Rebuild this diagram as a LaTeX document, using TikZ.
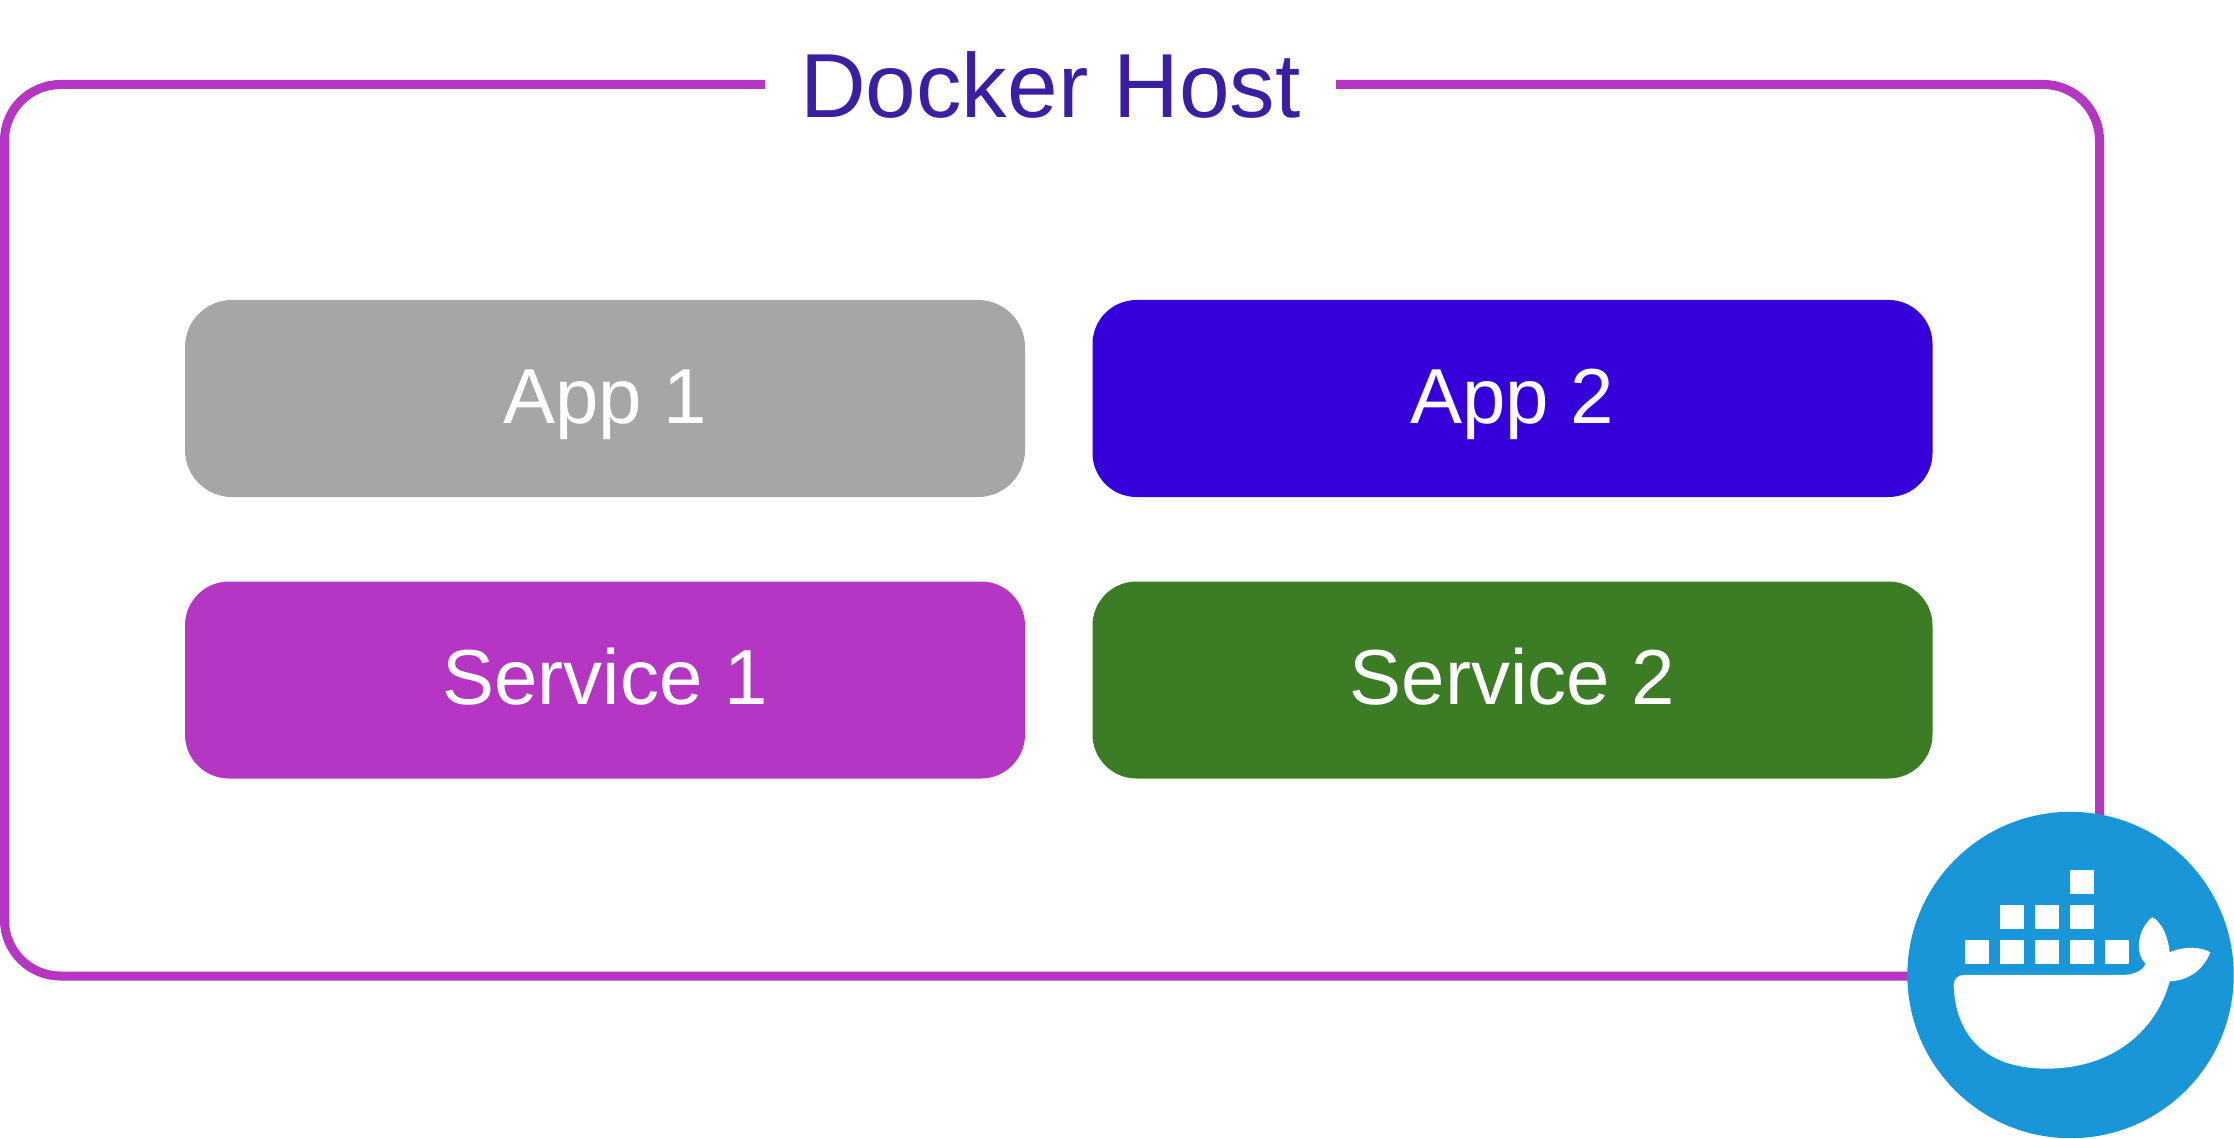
\documentclass[tikz,border=0pt]{standalone}
\usepackage{fontspec}
\setmainfont{Liberation Sans}
\definecolor{framecol}{HTML}{B536C3}
\definecolor{titlecol}{HTML}{3A1FA3}
\definecolor{appgray}{HTML}{A6A6A6}
\definecolor{appblue}{HTML}{3500DA}
\definecolor{svcgreen}{HTML}{3C7C24}
\definecolor{dockerblue}{HTML}{1996D8}
\begin{document}
\begin{tikzpicture}[
    x=1pt, y=-1pt,
    hostframe/.style={draw=framecol, line width=9pt, rounded corners=56pt},
    hosttitle/.style={fill=white, text=titlecol, anchor=base, inner xsep=0pt, minimum width=571pt, font=\fontsize{91}{100}\selectfont},
    box/.style={rounded corners=44pt, inner sep=0pt, minimum width=840pt, minimum height=197pt, text=white, text height=49pt, text depth=0pt, font=\fontsize{78}{90}\selectfont}
]
\useasboundingbox (0,0) rectangle (2234,1139);
\draw[hostframe] (4.5,84.5) rectangle (2099.5,976);
\node[hosttitle] (host) at (1050.5,118) {Docker Host};
% Приложения и сервисы
\node[box, fill=appgray, rounded corners=47pt] (app1) at (605,398.5) {App 1};
\node[box, fill=appblue] (app2) at (1512.5,398.5) {App 2};
\node[box, fill=framecol] (svc1) at (605,680) {Service 1};
\node[box, fill=svcgreen] (svc2) at (1512.5,680) {Service 2};
% Логотип
\node[circle, fill=dockerblue, inner sep=0pt, minimum size=326.4pt] (logo) at (2070.5,975) {};
\begin{scope}[shift={(1880,790)}, x=0.3333pt, y=-0.3333pt]
\foreach \cx/\cy in {571/241, 361/346, 466/346, 571/346, 256/451, 361/451, 466/451, 571/451, 676/451}
    \fill[white] (\cx,\cy) rectangle ++(71,71);
\fill[white] (221,585) .. controls (221,567) and (235,555) .. (250,555)
    -- (720,555) .. controls (760,555) and (785,545) .. (797,522)
    .. controls (765,490) and (770,420) .. (817,381)
    .. controls (850,400) and (866,450) .. (869,487)
    .. controls (905,470) and (960,468) .. (991,487)
    .. controls (970,540) and (925,572) .. (869,574)
    .. controls (830,720) and (700,836) .. (500,836)
    .. controls (300,836) and (225,720) .. (221,585) -- cycle;
\end{scope}
\end{tikzpicture}
\end{document}
